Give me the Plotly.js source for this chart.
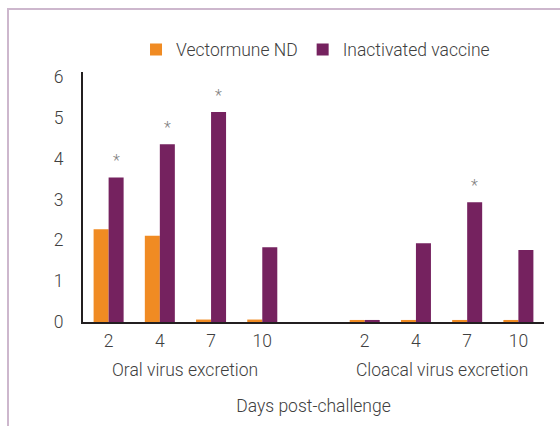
<!DOCTYPE html>
<html>
<head>
<meta charset="utf-8">
<script src="https://cdn.plot.ly/plotly-3.0.1.min.js"></script>
<style>
  html, body { margin: 0; padding: 0; background: #fff; }
  #wrap { position: relative; width: 560px; height: 426px; }
  #chart { width: 560px; height: 426px; }
  #frame { position: absolute; left: 7px; top: 8px; right: -2px; bottom: -2px;
           border-left: 2px solid #cdb7cd; border-top: 2px solid #cdb7cd; pointer-events: none; }
</style>
</head>
<body>
<div id="wrap"><div id="chart"></div><div id="frame"></div></div>
<script>
// ---- data ----
const groups = ['Oral virus excretion', 'Cloacal virus excretion'];
const days = ['2', '4', '7', '10'];
const vectormuneOral = [2.27, 2.11, 0.06, 0.06];
const vectormuneCloacal = [0.05, 0.05, 0.05, 0.05];
const inactivatedOral = [3.54, 4.35, 5.14, 1.83];
const inactivatedCloacal = [0.05, 1.93, 2.93, 1.76];
const sigOral = [true, true, true, false];
const sigCloacal = [false, false, true, false];
const seriesNames = ['Vectormune ND', 'Inactivated vaccine'];
const yTicks = [0, 1, 2, 3, 4, 5, 6];
const xTitle = 'Days post-challenge';

// ---- build positions (one empty slot between groups) ----
const xOral = days.map((d, i) => i);
const xCloacal = days.map((d, i) => i + days.length + 1);
const xAll = xOral.concat(xCloacal);
const tickText = days.concat(days);

const orange = '#F08B23';
const purple = '#75225F';
const textColor = '#404040';
const fontFam = 'Roboto, "DejaVu Sans", sans-serif';
const F = (size, color) => ({ family: fontFam, size: size, color: color || textColor, weight: 300 });

const traces = [
  { type: 'bar', name: seriesNames[0], x: xAll, y: vectormuneOral.concat(vectormuneCloacal),
    marker: { color: orange }, hoverinfo: 'none' },
  { type: 'bar', name: seriesNames[1], x: xAll, y: inactivatedOral.concat(inactivatedCloacal),
    marker: { color: purple }, hoverinfo: 'none' }
];

const sigAll = sigOral.concat(sigCloacal);
const purpleVals = inactivatedOral.concat(inactivatedCloacal);
const bargap = 0.414;
const barW = (1 - bargap) / 2;
const annotations = [];
sigAll.forEach((s, i) => {
  if (!s) return;
  annotations.push({ x: xAll[i] + barW / 2, y: purpleVals[i], xref: 'x', yref: 'y',
    text: '*', showarrow: false, yanchor: 'bottom', yshift: 5,
    font: F(16, '#808080') });
});
[xOral, xCloacal].forEach((xs, g) => {
  const mid = (xs[0] + xs[xs.length - 1]) / 2;
  annotations.push({ x: mid, y: 0, xref: 'x', yref: 'y', text: groups[g], showarrow: false,
    yanchor: 'middle', yshift: -48, font: F(17.5) });
});

const layout = {
  width: 560, height: 426,
  margin: { l: 83, r: 16, t: 72, b: 104 },
  paper_bgcolor: 'rgba(0,0,0,0)', plot_bgcolor: 'rgba(0,0,0,0)',
  font: F(17),
  barmode: 'group', bargap: bargap, bargroupgap: 0,
  showlegend: true,
  legend: { orientation: 'h', x: 0.115, xanchor: 'left', y: 1.09, yanchor: 'middle',
    font: F(17.5), itemwidth: 30, traceorder: 'normal' },
  xaxis: {
    range: [-0.5, xAll[xAll.length - 1] + 0.5],
    tickvals: xAll, ticktext: tickText,
    showline: true, linecolor: '#231F20', linewidth: 2, ticks: '', showgrid: false, zeroline: false,
    ticklabelstandoff: 2,
    tickfont: F(17.5),
    title: { text: xTitle, standoff: 50, font: F(17.5) }
  },
  yaxis: {
    range: [0, 6.12], tickvals: yTicks, ticktext: yTicks.map(String),
    showline: true, linecolor: '#231F20', linewidth: 2, ticks: '', showgrid: false, zeroline: false,
    ticklabelstandoff: 14,
    tickfont: F(17.5)
  },
  annotations: annotations
};

Plotly.newPlot('chart', traces, layout, { displayModeBar: false, staticPlot: true });
</script>
</body>
</html>
